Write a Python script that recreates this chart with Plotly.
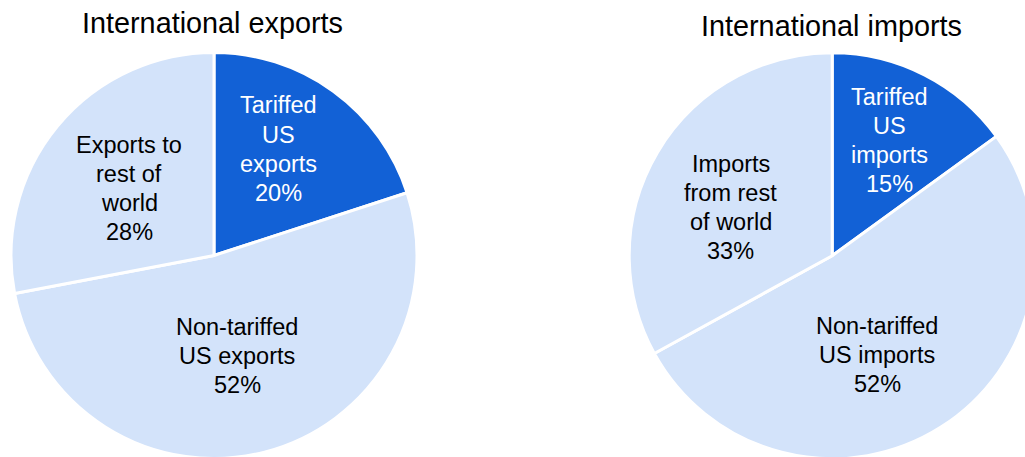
import plotly.graph_objects as go

# Share of international trade, percent
export_labels = ["Tariffed<br>US<br>exports", "Non-tariffed<br>US exports", "Exports to<br>rest of<br>world"]
export_values = [20, 52, 28]

import_labels = ["Tariffed<br>US<br>imports", "Non-tariffed<br>US imports", "Imports<br>from rest<br>of world"]
import_values = [15, 52, 33]

titles = ["International exports", "International imports"]

DARK = "#1261D6"
LIGHT = "#D3E3FA"
slice_colors = [DARK, LIGHT, LIGHT]
text_colors = ["white", "black", "black"]
FONT = "Arial, Liberation Sans, sans-serif"
LABEL_SIZE = 23.5
LINE_STEP = 29  # px between label lines

# canvas is a little wider/taller than the window so the right pie runs off the edge
W, H = 1045, 462


def px_x(x):
    return x / W


def px_y(y):
    return 1 - y / H


def pie_domain(cx, cy, r):
    return dict(x=[px_x(cx - r), px_x(cx + r)], y=[px_y(cy + r), px_y(cy - r)])


fig = go.Figure()

pies = [
    (export_labels, export_values, (214, 255.5, 203)),
    (import_labels, import_values, (832.2, 255.7, 203)),
]
for labels, values, (cx, cy, r) in pies:
    fig.add_trace(go.Pie(
        labels=labels,
        values=values,
        sort=False,
        direction="clockwise",
        rotation=0,
        marker=dict(colors=slice_colors, line=dict(color="white", width=3)),
        textinfo="none",
        hoverinfo="label+percent",
        showlegend=False,
        domain=pie_domain(cx, cy, r),
    ))

# slice label block centres (pixels)
label_pos = [
    [(278, 149), (237, 356), (129, 188)],
    [(889, 140.5), (877, 354.5), (730.5, 207)],
]
annotations = []
for (labels, values, _), positions in zip(pies, label_pos):
    for lab, val, (x, y), col in zip(labels, values, positions, text_colors):
        lines = lab.split("<br>") + [f"{val}%"]
        n = len(lines)
        for i, line in enumerate(lines):
            ly = y + (i - (n - 1) / 2) * LINE_STEP
            annotations.append(dict(
                text=line, x=px_x(x), y=px_y(ly), xref="paper", yref="paper",
                xanchor="center", yanchor="middle", showarrow=False,
                font=dict(family=FONT, size=LABEL_SIZE, color=col),
            ))

title_pos = [(212, 23), (831, 26)]
for t, (x, y) in zip(titles, title_pos):
    annotations.append(dict(
        text=t, x=px_x(x), y=px_y(y), xref="paper", yref="paper",
        xanchor="center", yanchor="middle", showarrow=False,
        font=dict(family=FONT, size=28.8, color="black"),
    ))

fig.update_layout(
    width=W, height=H, autosize=False,
    margin=dict(l=0, r=0, t=0, b=0),
    paper_bgcolor="white", plot_bgcolor="white",
    annotations=annotations,
)

fig.write_html(
    "out.html",
    config={"displayModeBar": False},
    post_script="document.documentElement.style.overflow='hidden';document.body.style.overflow='hidden';document.body.style.margin='0';",
)
